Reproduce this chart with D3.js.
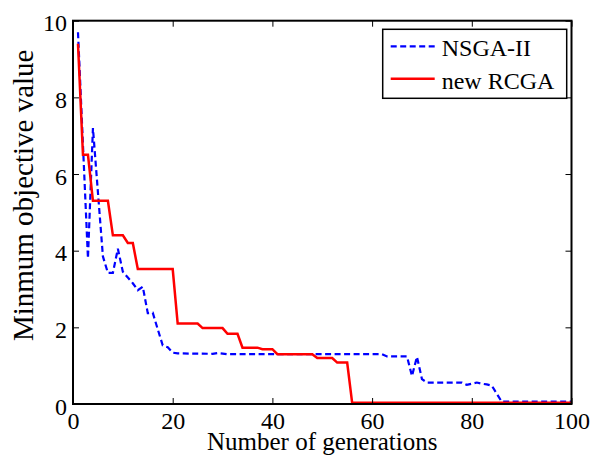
<!DOCTYPE html>
<html>
<head>
<meta charset="utf-8">
<script src="https://cdn.jsdelivr.net/npm/d3@7"></script>
<style>
  body { margin: 0; background: #fff; }
  svg { display: block; }
  text { font-family: "Liberation Serif", "Times New Roman", serif; fill: #000; }
</style>
</head>
<body>
<svg id="chart" width="592" height="461"></svg>
<script>
// NSGA-II (blue, dashed) - vertices
let nsgaGen = [1, 3, 4, 6, 7, 8, 9, 10, 11, 12, 13, 14, 15, 16, 17, 18, 19, 20, 21, 28, 29, 31, 62, 63, 67, 68, 69, 70, 71, 78, 79, 80, 81, 82, 83, 84, 86, 100];
let nsgaVal = [9.7, 3.8, 7.2, 3.85, 3.42, 3.42, 4.05, 3.45, 3.3, 3.15, 2.97, 3.06, 2.37, 2.38, 1.95, 1.53, 1.48, 1.34, 1.32, 1.31, 1.33, 1.30, 1.30, 1.24, 1.24, 0.73, 1.23, 0.65, 0.56, 0.56, 0.50, 0.53, 0.56, 0.53, 0.51, 0.48, 0.06, 0.06];

// new RCGA (red, solid)
let rcgaGen = [1, 2, 3, 4, 7, 8, 10, 11, 12, 13, 20, 21, 25, 26, 30, 31, 33, 34, 37, 38, 40, 41, 48, 49, 52, 53, 55, 56, 100];
let rcgaVal = [9.4, 6.5, 6.5, 5.3, 5.3, 4.4, 4.4, 4.2, 4.2, 3.52, 3.52, 2.1, 2.1, 1.98, 1.98, 1.83, 1.83, 1.47, 1.47, 1.43, 1.43, 1.30, 1.30, 1.20, 1.20, 1.08, 1.08, 0.03, 0.03];

let xTicks = [0, 20, 40, 60, 80, 100];
let yTicks = [0, 2, 4, 6, 8, 10];
let seriesNames = ["NSGA-II", "new RCGA"];

let svg = d3.select("#chart");
let margin = { left: 73, right: 20.5, top: 20.7, bottom: 57 };
let width = +svg.attr("width");
let height = +svg.attr("height");
let plotW = width - margin.left - margin.right;
let plotH = height - margin.top - margin.bottom;
let fontFamily = "'Liberation Serif', 'Times New Roman', serif";
let fontSize = 24;

let xScale = d3.scaleLinear().domain([0, 100]).range([0, plotW]);
let yScale = d3.scaleLinear().domain([0, 10]).range([plotH, 0]);

let g = svg.append("g")
    .attr("transform", "translate(" + margin.left + "," + margin.top + ")");

// Series lines
let line = d3.line()
    .x(d => xScale(d[0]))
    .y(d => yScale(d[1]));

let nsgaData = nsgaGen.map((d, i) => [d, nsgaVal[i]]);
let rcgaData = rcgaGen.map((d, i) => [d, rcgaVal[i]]);

g.append("path")
    .datum(nsgaData)
    .attr("d", line)
    .attr("fill", "none")
    .attr("stroke", "#0000ff")
    .attr("stroke-width", 2.2)
    .attr("stroke-dasharray", "6,3.5");

g.append("path")
    .datum(rcgaData)
    .attr("d", line)
    .attr("fill", "none")
    .attr("stroke", "#ff0000")
    .attr("stroke-width", 2.5);

// Axes: ticks point inward on all four sides
function styleAxis(sel) {
    sel.attr("font-family", fontFamily).attr("font-size", fontSize);
    sel.select(".domain").remove();
    sel.selectAll(".tick line").attr("stroke", "#000").attr("stroke-width", 1);
    sel.selectAll("text").attr("fill", "#000");
}

g.append("g")
    .attr("transform", "translate(0," + plotH + ")")
    .call(d3.axisBottom(xScale).tickValues(xTicks).tickSize(-6).tickPadding(8))
    .call(styleAxis);

g.append("g")
    .call(d3.axisLeft(yScale).tickValues(yTicks).tickSize(-6).tickPadding(6))
    .call(styleAxis)
    .selectAll("text").attr("dy", "0.42em");

g.append("g")
    .call(d3.axisTop(xScale).tickValues(xTicks).tickSize(-6).tickFormat(""))
    .call(styleAxis);

g.append("g")
    .attr("transform", "translate(" + plotW + ",0)")
    .call(d3.axisRight(yScale).tickValues(yTicks).tickSize(-6).tickFormat(""))
    .call(styleAxis);

// Box around the plot
g.append("rect")
    .attr("x", 0)
    .attr("y", 0)
    .attr("width", plotW)
    .attr("height", plotH)
    .attr("fill", "none")
    .attr("stroke", "#000")
    .attr("stroke-width", 2);

// Axis titles
svg.append("text")
    .attr("x", margin.left + plotW / 2)
    .attr("y", 450)
    .attr("text-anchor", "middle")
    .style("font-size", "25px")
    .text("Number of generations");

svg.append("text")
    .attr("transform", "translate(33," + (margin.top + plotH / 2 - 17) + ") rotate(-90)")
    .attr("text-anchor", "middle")
    .style("font-size", "29px")
    .text("Minmum objective value");

// Legend
let legend = svg.append("g")
    .attr("transform", "translate(382.7,29.3)");

legend.append("rect")
    .attr("width", 184)
    .attr("height", 69)
    .attr("fill", "#fff")
    .attr("stroke", "#000")
    .attr("stroke-width", 1.5);

let legendStyles = [
    { color: "#0000ff", dash: "6,3.5", width: 2.2 },
    { color: "#ff0000", dash: null, width: 2.5 }
];

seriesNames.forEach((name, i) => {
    let yRow = 17 + i * 32.5;
    legend.append("line")
        .attr("x1", 8)
        .attr("x2", 52)
        .attr("y1", yRow)
        .attr("y2", yRow)
        .attr("stroke", legendStyles[i].color)
        .attr("stroke-width", legendStyles[i].width)
        .attr("stroke-dasharray", legendStyles[i].dash);
    legend.append("text")
        .attr("x", 59)
        .attr("y", yRow + 10)
        .style("font-size", "24px")
        .text(name);
});
</script>
</body>
</html>
